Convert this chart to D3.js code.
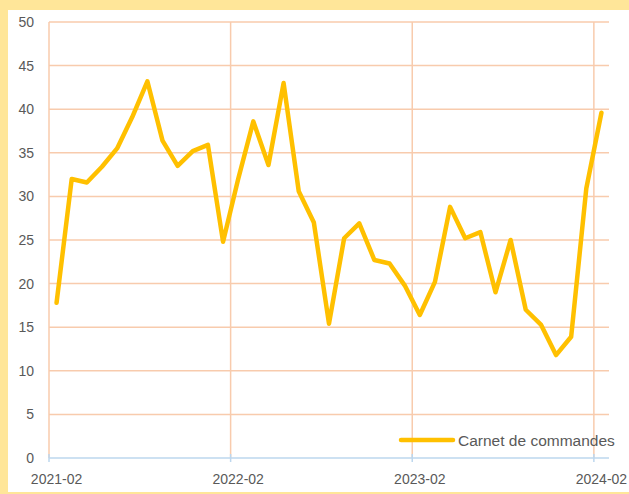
<!DOCTYPE html>
<html lang="fr">
<head>
<meta charset="UTF-8">
<title>Carnet de commandes</title>
<style>
  body { margin: 0; background: #FFE699; }
  svg { display: block; }
  .lbl { font-family: "Liberation Sans", Arial, sans-serif; fill: #595959; }
</style>
</head>
<body>
<svg id="chart"></svg>
<script src="https://cdn.jsdelivr.net/npm/d3@7"></script>
<script>
// monthly values, 2021-02 .. 2024-02
const values = [
  17.8, 32.0, 31.6, 33.4, 35.5, 39.1, 43.2, 36.4, 33.5, 35.2, 35.9, 24.8,
  32.0, 38.6, 33.6, 43.0, 30.6, 27.0, 15.4, 25.2, 26.9, 22.7, 22.3, 19.8,
  16.4, 20.2, 28.8, 25.2, 25.9, 19.0, 25.0, 17.0, 15.3, 11.8, 13.9, 30.9,
  39.6
];
const tickMonths = [0, 12, 24, 36];
const tickLabels = ["2021-02", "2022-02", "2023-02", "2024-02"];
const yTicks = [0, 5, 10, 15, 20, 25, 30, 35, 40, 45, 50];
const seriesName = "Carnet de commandes";

const width = 629, height = 494;
const svg = d3.select("#chart").attr("width", width).attr("height", height);

// white panel inside the yellow frame
svg.append("rect").attr("x", 8).attr("y", 10).attr("width", width - 8).attr("height", 482).attr("fill", "#fff");

const x = d3.scaleLinear().domain([0, values.length]).range([49, 609]);
const y = d3.scaleLinear().domain([0, 50]).range([458, 22]);

// horizontal grid
svg.append("g").selectAll("line")
  .data(yTicks.filter(d => d > 0))
  .join("line")
  .attr("x1", x(0)).attr("x2", x(values.length))
  .attr("y1", d => y(d)).attr("y2", d => y(d))
  .attr("stroke", "#F8CBAD").attr("stroke-width", 1.5);

// vertical grid
svg.append("g").selectAll("line")
  .data(tickMonths)
  .join("line")
  .attr("x1", d => x(d)).attr("x2", d => x(d))
  .attr("y1", y(50)).attr("y2", y(0))
  .attr("stroke", "#F8CBAD").attr("stroke-width", 1.5);

// x axis line + ticks
svg.append("line")
  .attr("x1", x(0)).attr("x2", x(values.length))
  .attr("y1", y(0)).attr("y2", y(0))
  .attr("stroke", "#BDD7EE").attr("stroke-width", 1.5);
svg.append("g").selectAll("line")
  .data(tickMonths)
  .join("line")
  .attr("x1", d => x(d)).attr("x2", d => x(d))
  .attr("y1", y(0) - 4).attr("y2", y(0) + 4)
  .attr("stroke", "#BDD7EE").attr("stroke-width", 1.5);

// y labels
svg.append("g").selectAll("text")
  .data(yTicks)
  .join("text")
  .attr("class", "lbl")
  .attr("x", 34).attr("y", d => y(d))
  .attr("dy", "0.35em")
  .attr("text-anchor", "end")
  .style("font-size", "14px")
  .text(d => d);

// x labels, centred on the month
svg.append("g").selectAll("text")
  .data(tickMonths)
  .join("text")
  .attr("class", "lbl")
  .attr("x", d => x(d + 0.5)).attr("y", 484)
  .attr("text-anchor", "middle")
  .style("font-size", "14px")
  .text((d, i) => tickLabels[i]);

// series line
const line = d3.line()
  .x((d, i) => x(i + 0.5))
  .y(d => y(d));

svg.append("path")
  .datum(values)
  .attr("d", line)
  .attr("fill", "none")
  .attr("stroke", "#FFC000")
  .attr("stroke-width", 4.5)
  .attr("stroke-linejoin", "round")
  .attr("stroke-linecap", "round");

// legend
svg.append("line")
  .attr("x1", 401).attr("x2", 453)
  .attr("y1", 440).attr("y2", 440)
  .attr("stroke", "#FFC000").attr("stroke-width", 4.5)
  .attr("stroke-linecap", "round");
svg.append("text")
  .attr("class", "lbl")
  .attr("x", 458).attr("y", 446)
  .style("font-size", "15.5px")
  .text(seriesName);
</script>
</body>
</html>
